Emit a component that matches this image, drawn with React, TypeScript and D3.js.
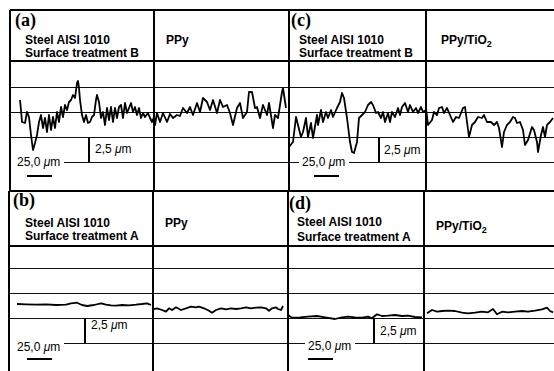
import * as d3 from 'd3';

// [distance along the surface (µm), profile height (µm)]
type Pt = [number, number];

// (a) steel, surface treatment B  |  PPy coated
const steelB_a: Pt[] = [
  [10, 1.2], [11, 0.2], [12, -1.0], [15, -1.1], [17, 0], [19, -0.5], [21, -2.3], [23, -3.8], [25, -3.1], [27, -2.3],
  [29, -1.0], [31, -0.3], [33, -1.6], [35, -0.6], [37, -2.0], [39, -0.3], [41, -1.8], [43, -0.5], [45, -1.6], [47, 0],
  [49, -1.0], [51, 0.5], [53, -0.5], [55, 0.7], [57, 0.2], [59, 1.0], [61, 1.2], [63, 1.7], [65, 1.4], [67, 2.9],
  [68, 3.1], [69, 2.4], [70, 1.2], [72, -0.3], [74, -1.0], [76, -0.3], [78, -1.1], [80, -1.0], [82, -0.5], [84, -0.3],
  [86, 1.2], [87, 1.7], [89, 1.0], [91, -0.6], [93, 0], [95, -1.3], [97, 0.4], [99, -0.8], [101, 0.5], [103, -1.0],
  [105, 0.4], [107, -0.6], [109, 0.5], [111, 0.7], [113, -0.6], [115, 0.9], [117, -0.1], [119, 0.4], [121, 0.9], [123, 0],
  [125, 0.5], [127, -0.3], [129, 0.4], [131, -0.6], [133, -0.1], [135, -0.5], [138, -0.1], [140, -0.6], [142, -1.0], [144, -0.5],
];
const ppy_a: Pt[] = [
  [0, -0.5], [1, -1.3], [3, -0.1], [6, -1.0], [9, -0.1], [13, -1.0], [16, -0.2], [19, -0.6], [23, -0.3], [26, -0.4],
  [29, 0.4], [33, -0.1], [36, 0.5], [39, -0.3], [43, 0.9], [46, 0], [49, 1.4], [53, 1.0], [56, 0.2], [59, 1.2],
  [63, -0.1], [66, 1.2], [69, 0.5], [73, 0.7], [76, -0.1], [79, -1.3], [83, 0.4], [86, 0.9], [89, -0.6], [93, 0],
  [95, 2.0], [98, 2.0], [101, 0.4], [103, 0.5], [106, -0.6], [109, 0.7], [113, -0.3], [115, 0.9], [119, -1.6], [121, -0.3],
  [124, -0.6], [128, 2.0], [129, 2.4], [132, 0.4],
];

// (c) steel, surface treatment B  |  PPy/TiO2 coated
const steelB_c: Pt[] = [
  [0, -3.5], [4, -3.0], [7, -0.5], [9, -1.3], [12, -2.5], [14, -2.0], [17, -0.6], [19, -2.5], [22, -1.1], [24, -2.6],
  [28, -0.3], [29, -1.3], [32, 0.2], [34, -1.0], [37, 0], [39, -0.6], [42, 0.2], [44, -0.5], [48, 0.4], [51, 1.0],
  [53, 1.9], [55, 1.4], [58, -0.6], [61, -3.0], [63, -4.0], [65, -4.1], [68, -3.0], [70, -0.6], [73, -0.3], [76, 0],
  [79, 0.7], [82, 1.0], [84, 0.7], [87, -0.1], [89, 0], [92, -0.6], [94, 0], [96, -1.0], [99, -0.1], [101, -1.0],
  [103, 0], [106, -0.5], [109, 0.4], [111, -0.3], [113, 0.5], [116, 0.9], [119, 0], [121, 0.7], [124, 0], [127, 0.4],
  [129, -0.1], [132, 0.5], [134, 0], [137, 0.2],
];
const ppyTiO2_c: Pt[] = [
  [0, 0.4], [2, -1.3], [6, -0.8], [8, 0], [11, -0.3], [13, 0.4], [16, 0.5], [18, -0.1], [21, 0.4], [24, -0.3],
  [27, -1.0], [30, -0.5], [33, -0.6], [37, 0.4], [39, 0.5], [41, -1.0], [43, -2.5], [46, -1.3], [49, -1.0], [52, -0.5],
  [56, -0.6], [58, -0.3], [61, -1.0], [65, -1.0], [68, -1.3], [71, -1.0], [73, -1.6], [76, -3.5], [78, -2.0], [81, -1.3],
  [84, -1.0], [87, -0.5], [89, -0.6], [91, -1.1], [94, -1.0], [97, -1.8], [99, -3.3], [102, -2.8], [106, -1.5], [108, -1.8],
  [111, -3.0], [112, -4.0], [115, -2.3], [117, -1.5], [119, -2.5], [121, -1.3], [124, -1.0], [127, -0.6],
];

// (b) steel, surface treatment A  |  PPy coated
const steelA_b: Pt[] = [
  [8, 1.4], [17, 1.37], [27, 1.33], [37, 1.37], [47, 1.3], [57, 1.33], [62, 1.47], [68, 1.53], [73, 1.3], [78, 1.2],
  [85, 1.3], [92, 1.47], [97, 1.33], [102, 1.27], [107, 1.23], [113, 1.3], [120, 1.27], [127, 1.33], [133, 1.4], [138, 1.47],
  [142, 1.3],
];
const ppy_b: Pt[] = [
  [0, 0.87], [4, 0.97], [9, 0.8], [13, 0.63], [16, 0.97], [19, 0.8], [23, 1.07], [28, 0.8], [33, 0.97], [38, 1.13],
  [43, 1.07], [46, 1.13], [51, 0.97], [56, 0.73], [59, 0.53], [63, 0.8], [68, 0.97], [73, 0.87], [78, 0.97], [83, 0.9],
  [88, 0.97], [93, 1.07], [98, 0.97], [103, 1.03], [108, 1.07], [113, 0.97], [116, 0.73], [119, 0.97], [123, 1.07], [125, 0.9],
  [128, 0.8], [130, 1.2],
];

// (d) steel, surface treatment A  |  PPy/TiO2 coated
const steelA_d: Pt[] = [
  [0, 0.3], [4, 0.03], [12, 0.07], [20, 0.13], [29, 0.2], [37, 0.07], [47, -0.1], [54, 0.07], [60, 0.13], [67, 0.07],
  [74, 0.03], [80, 0.13], [84, -0.03], [89, 0.37], [94, 0.2], [100, 0.23], [107, 0.3], [114, 0.2], [120, 0.23], [127, 0.1],
  [134, 0.07],
];
const ppyTiO2_d: Pt[] = [
  [3, 0.47], [8, 0.8], [13, 0.63], [18, 0.7], [24, 0.73], [31, 0.7], [38, 0.53], [44, 0.47], [51, 0.53], [58, 0.63],
  [64, 0.57], [69, 0.9], [73, 0.37], [78, 0.63], [84, 0.57], [91, 0.63], [98, 0.7], [104, 0.63], [111, 0.73], [118, 0.87],
  [123, 1.03], [126, 0.7], [129, 0.57],
];

const SANS = '"Liberation Sans", Arial, sans-serif';
const SERIF = '"Liberation Serif", "Times New Roman", serif';

interface PanelSpec {
  label: string;
  treatment: string;
  coating: string;
  sub: Pt[];
  coat: Pt[];
  left: number; mid: number; right: number;
  top: number; head: number; bottom: number;
  zeroY: number;
  grid: number[];
  barLevel: number; // grid line carrying the "25,0 µm" label
  bracketX: number; bracketTop: number;
  labelX: number; labelY: number;
  textX: number; line1Y: number; line2Y: number;
  coatX: number; coatY: number;
  barLblX: number; barLblY: number; maskX: number;
  barX: number; barY: number;
  stepLblX: number; stepLblY: number;
}

const PANELS: PanelSpec[] = [
  {
    label: '(a)', treatment: 'Surface treatment B', coating: 'PPy', sub: steelB_a, coat: ppy_a,
    left: 10, mid: 154, right: 289, top: 10, head: 61, bottom: 191, zeroY: 112,
    grid: [2.5, 0, -2.5, -5], barLevel: -5, bracketX: 89, bracketTop: -2.5,
    labelX: 15, labelY: 26, textX: 25, line1Y: 44, line2Y: 56.5, coatX: 166, coatY: 44,
    barLblX: 17, barLblY: 166, maskX: 11, barX: 27, barY: 176, stepLblX: 95, stepLblY: 153,
  },
  {
    label: '(c)', treatment: 'Surface treatment B', coating: 'PPy/TiO', sub: steelB_c, coat: ppyTiO2_c,
    left: 289, mid: 426, right: 554, top: 10, head: 61, bottom: 191, zeroY: 112,
    grid: [2.5, 0, -2.5, -5], barLevel: -5, bracketX: 379, bracketTop: -2.5,
    labelX: 291, labelY: 26, textX: 299, line1Y: 44, line2Y: 56.5, coatX: 441, coatY: 44,
    barLblX: 302, barLblY: 166, maskX: 299, barX: 314, barY: 176, stepLblX: 384, stepLblY: 154,
  },
  {
    label: '(b)', treatment: 'Surface treatment A', coating: 'PPy', sub: steelA_b, coat: ppy_b,
    left: 9, mid: 153, right: 288, top: 191, head: 246, bottom: 371, zeroY: 318,
    grid: [5, 2.5, 0, -2.5], barLevel: -2.6, bracketX: 85, bracketTop: 0,
    labelX: 13, labelY: 206, textX: 25, line1Y: 227, line2Y: 239.5, coatX: 165, coatY: 227,
    barLblX: 17, barLblY: 351, maskX: 10, barX: 27, barY: 359, stepLblX: 91, stepLblY: 329,
  },
  {
    label: '(d)', treatment: 'Surface treatment A', coating: 'PPy/TiO', sub: steelA_d, coat: ppyTiO2_d,
    left: 288, mid: 424, right: 554, top: 191, head: 246, bottom: 371, zeroY: 318,
    grid: [5, 2.5, 0, -2.5], barLevel: -2.6, bracketX: 374, bracketTop: 0,
    labelX: 289, labelY: 209, textX: 297, line1Y: 226, line2Y: 240.5, coatX: 436, coatY: 230,
    barLblX: 308, barLblY: 350, maskX: 305, barX: 308, barY: 359, stepLblX: 380, stepLblY: 335,
  },
];

// lateral scale: 1 µm of surface ≈ 1 px in the figure
const um = d3.scaleLinear().domain([0, 25]).range([0, 25]);

function Panel({ p }: { p: PanelSpec }) {
  // vertical scale: 2.5 µm between grid lines
  const y = d3.scaleLinear().domain([0, -2.5]).range([p.zeroY, p.zeroY + 25]);
  const path = (x0: number, pts: Pt[]) =>
    d3.line<Pt>().x((d) => x0 + um(d[0])).y((d) => y(d[1]))(pts) ?? '';
  const hasSub = p.coating.includes('TiO');

  return (
    <g>
      {p.grid.map((v) => (
        <line
          key={v} x1={p.left} x2={p.right} y1={Math.round(y(v)) + 0.5} y2={Math.round(y(v)) + 0.5}
          stroke="#111" strokeWidth={1} shapeRendering="crispEdges"
        />
      ))}
      <g stroke="#000" strokeWidth={2} shapeRendering="crispEdges">
        <line x1={p.left} x2={p.right} y1={p.top} y2={p.top} />
        <line x1={p.left} x2={p.right} y1={p.head} y2={p.head} />
        <line x1={p.left} x2={p.left} y1={p.top} y2={p.bottom} />
        <line x1={p.mid} x2={p.mid} y1={p.top} y2={p.bottom} />
      </g>

      {/* white gap behind the 25,0 µm label */}
      <rect x={p.maskX} y={y(p.barLevel) - 7} width={p.barLblX - p.maskX + 47} height={13} fill="#fff" />

      <path d={path(p.left, p.sub)} fill="none" stroke="#000" strokeWidth={1.8} strokeLinejoin="round" />
      <path d={path(p.mid, p.coat)} fill="none" stroke="#000" strokeWidth={1.8} strokeLinejoin="round" />

      {/* 2,5 µm bracket */}
      <line
        x1={p.bracketX} x2={p.bracketX}
        y1={y(p.bracketTop)} y2={y(p.bracketTop - 2.5)}
        stroke="#000" strokeWidth={2} shapeRendering="crispEdges"
      />
      <text x={p.stepLblX} y={p.stepLblY} fontFamily={SANS} fontSize={12} fill="#000">
        2,5 <tspan fontStyle="italic">μ</tspan>m
      </text>

      {/* 25 µm scale bar */}
      <text x={p.barLblX} y={p.barLblY} fontFamily={SANS} fontSize={12} fill="#000">
        25,0 <tspan fontStyle="italic">μ</tspan>m
      </text>
      <line
        x1={p.barX} x2={p.barX + um(25)} y1={p.barY} y2={p.barY}
        stroke="#000" strokeWidth={2} shapeRendering="crispEdges"
      />

      {/* header */}
      <text x={p.labelX} y={p.labelY} fontFamily={SERIF} fontWeight="bold" fontSize={18} fill="#000">
        {p.label}
      </text>
      <text x={p.textX} y={p.line1Y} fontFamily={SANS} fontWeight="bold" fontSize={12} fill="#000">
        Steel AISI 1010
      </text>
      <text x={p.textX} y={p.line2Y} fontFamily={SANS} fontWeight="bold" fontSize={12} fill="#000">
        {p.treatment}
      </text>
      <text x={p.coatX} y={p.coatY} fontFamily={SANS} fontWeight="bold" fontSize={12} fill="#000">
        {p.coating}
        {hasSub && (
          <tspan dy={3} fontSize={9}>2</tspan>
        )}
      </text>
    </g>
  );
}

export default function App() {
  return (
    <div style={{ position: 'fixed', left: 0, top: 0, background: '#fff' }}>
      <svg width={554} height={371} viewBox="0 0 554 371" style={{ display: 'block' }}>
        <rect width={554} height={371} fill="#fff" />
        {PANELS.map((p) => (
          <Panel key={p.label} p={p} />
        ))}
      </svg>
    </div>
  );
}
